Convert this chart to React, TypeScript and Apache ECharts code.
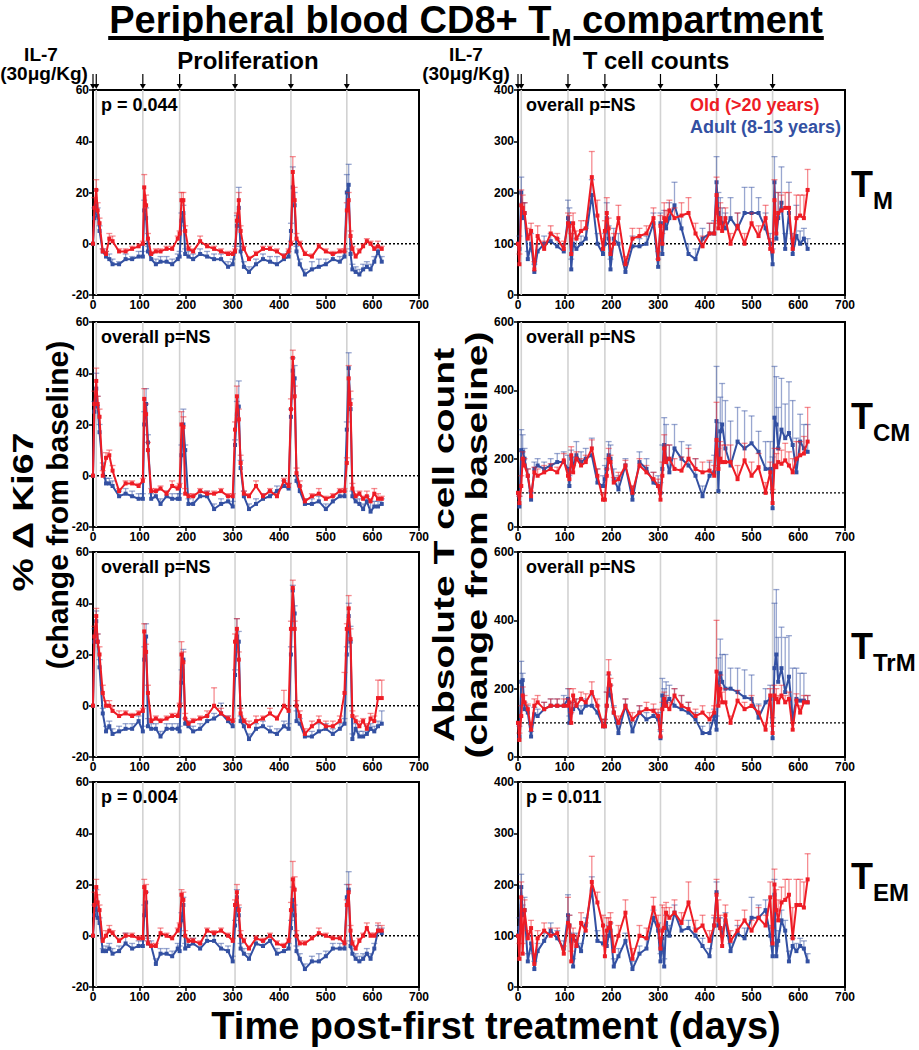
import React, { useEffect, useRef } from 'react';
import * as echarts from 'echarts';

const W = 919;
const H = 1050;
const FONT = '"Liberation Sans", Arial, Helvetica, sans-serif';

// sample days (days post first IL-7 treatment)
const days = [0,3,7,10,14,21,28,35,42,56,70,84,98,
  107,110,114,118,125,135,145,158,170,182,
  186,190,194,198,205,215,230,245,260,275,290,300,
  305,309,313,317,324,335,350,365,380,395,410,420,
  425,429,433,437,444,455,470,485,500,515,530,540,
  545,549,553,557,564,572,580,588,596,604,612,620];
const treatDays = [0, 7, 107, 186, 305, 425, 545];
const guideDays = [7, 107, 186, 305, 425, 545];
const xTicks = [0, 700, 100];

// Panel A: Ki67 TM
const aR = [0,14,21,13,8,-3,-4,2,1,-3,-3,-2,-1, 0,22,15,2,-4,-3,-3,-2,-2,2, 4,17,17,5,-2,-3,1,-1,-2,-3,-4,-4, -3,9,17,5,-2,-6,-4,-2,-2,-3,-5,-3, 0,28,17,2,0,-4,-5,-1,-3,-4,-3,-3, 13,17,3,-2,-5,-3,-1,1,0,-2,-1,-2];
const aRe = [0,4,4,3,2,1,1,2,2,1,1,1,1, 1,5,4,2,1,1,1,1,1,1, 1,3,3,2,1,1,2,1,1,1,1,1, 1,3,3,2,1,1,1,1,1,1,1,1, 1,6,5,2,1,1,1,1,1,1,1,1, 3,3,2,1,1,1,1,1,1,1,2,1];
const aB = [0,10,15,11,5,-3,-5,-6,-8,-8,-6,-6,-5, -5,13,10,-3,-6,-8,-7,-7,-8,-6, -5,9,12,-4,-5,-6,-4,-5,-6,-6,-9,-8, -3,7,14,-3,-9,-11,-8,-6,-7,-8,-6,-5, 5,22,15,-3,-8,-12,-10,-9,-8,-6,-7,-5, 20,23,-4,-10,-11,-12,-10,-9,-10,-7,-3,-7];
const aBe = [0,4,6,3,2,1,2,2,2,1,2,1,2, 2,4,4,2,2,2,2,2,2,2, 2,3,3,2,2,2,2,2,2,2,2,2, 2,4,8,2,2,2,2,2,2,3,2,2, 3,8,5,2,2,2,3,3,2,2,2,2, 7,8,2,2,2,2,2,2,2,2,2,2];

// Panel B: Ki67 TCM
const bR = [0,28,37,28,23,0,7,8,2,-6,-3,-3,-4, -2,30,24,10,-6,-6,-5,-7,-4,-5, -4,20,19,-7,-8,-8,-6,-7,-7,-6,-8,-8, 18,31,22,5,-7,-8,-4,-8,-6,-8,-2,-4, 26,46,31,1,-4,-10,-8,-7,-9,-8,-6,-6, 5,38,28,-5,-8,-7,-9,-8,-10,-7,-9,-9];
const bRe = [0,5,5,3,3,2,2,2,2,1,1,1,1, 1,4,4,3,1,1,1,1,2,1, 1,5,4,2,1,1,1,1,1,1,1,1, 3,4,4,3,1,1,2,1,1,1,1,1, 4,3,4,2,2,1,1,2,1,1,1,1, 2,5,5,2,1,1,1,2,1,2,2,1];
const bB = [0,25,34,27,17,3,-3,-3,-4,-8,-7,-8,-9, -9,20,28,13,-9,-8,-11,-8,-9,-9, -9,8,20,10,-11,-11,-8,-8,-13,-11,-10,-12, 12,24,27,3,-8,-13,-11,-9,-8,-6,-4,-5, 23,41,38,-2,-6,-11,-11,-10,-13,-10,-8,-8, 18,42,26,-8,-10,-11,-13,-10,-14,-12,-12,-11];
const bBe = [0,4,6,4,3,2,2,2,2,2,2,2,2, 2,5,6,3,2,2,2,2,2,2, 2,4,6,2,2,3,2,2,2,2,2,2, 2,5,10,3,2,2,2,2,2,2,2,2, 3,5,5,2,2,2,2,2,2,2,2,2, 3,6,4,2,2,2,2,2,4,2,2,2];

// Panel C: Ki67 TTrM
const cR = [0,27,35,25,20,5,0,0,-2,-4,-3,-4,-3, -2,29,21,5,-6,-5,-6,-5,-4,-4, 0,20,17,-5,-7,-6,-5,-4,0,-3,-5,-6, 25,30,18,-3,-6,-8,-6,-5,-3,-5,0,-2, 30,46,30,0,-4,-11,-8,-6,-8,-8,-6,5, 30,38,26,-4,-6,-8,-6,-9,-5,-6,3,3];
const cRe = [0,4,3,3,3,3,2,2,2,2,1,1,1, 1,3,3,3,1,1,1,1,1,1, 1,5,4,2,1,1,1,2,7,2,1,1, 3,4,3,2,1,2,2,1,2,1,6,2, 3,3,3,2,2,2,2,2,2,2,2,8, 2,5,4,2,2,2,1,2,2,2,7,7];
const cB = [0,25,33,25,15,-3,-10,-8,-11,-10,-9,-9,-6, -10,18,27,-8,-9,-9,-12,-9,-9,-9, -10,9,18,-7,-8,-10,-9,-6,-5,-3,-6,-8, 12,27,25,-6,-8,-13,-9,-8,-10,-11,-8,-9, 20,45,36,-6,-7,-12,-12,-10,-9,-11,-9,-7, 20,35,25,-13,-9,-12,-12,-11,-9,-10,-8,-7];
const cBe = [0,5,4,3,3,2,2,2,2,2,2,2,2, 2,5,5,3,2,2,2,2,2,2, 2,5,4,2,2,2,2,2,2,4,2,2, 2,7,4,2,2,2,2,2,2,2,2,2, 3,2,3,4,2,2,2,3,2,2,2,2, 3,5,6,2,2,2,2,3,2,2,2,5];

// Panel D: Ki67 TEM
const dR = [0,12,19,13,10,-2,0,2,1,-2,0,0,-1, -1,19,17,-3,-4,-4,1,0,-1,2, 4,16,14,0,-2,-2,-3,2,1,2,0,-2, 12,17,10,0,-2,-5,-1,-2,0,-3,-4,-2, 10,22,18,0,-3,-3,-1,1,0,-1,-1,-3, 12,17,2,-3,-5,-2,0,3,0,0,2,2];
const dRe = [0,5,3,3,2,1,2,2,1,1,1,1,1, 1,3,3,1,1,1,2,1,1,1, 1,2,3,2,1,1,1,1,1,1,1,1, 2,3,2,2,1,1,1,1,1,1,1,1, 3,7,5,2,1,1,1,2,1,1,1,1, 2,3,2,1,1,1,1,2,1,1,3,2];
const dB = [0,8,13,7,5,-6,-6,-5,-7,-6,-3,-5,-4, -4,8,13,-3,-4,-11,-7,-7,-8,-5, -6,6,12,-5,-4,-3,-5,-2,-2,-5,-6,-10, 4,15,8,-5,-7,-9,-3,-4,-2,-7,-6,-5, 3,14,8,-6,-9,-13,-10,-10,-8,-5,-5,-5, 15,18,-4,-7,-9,-10,-9,-7,-9,-5,2,1];
const dBe = [0,4,5,3,2,1,2,2,2,2,4,2,2, 2,4,4,2,2,2,2,2,2,2, 2,3,3,2,2,2,2,2,2,2,2,2, 2,3,3,2,2,2,2,2,2,2,2,2, 3,5,4,2,2,2,2,3,2,2,2,2, 5,7,2,2,2,2,2,2,2,2,2,2];

// Panel E: counts TM
const eR = [100,60,175,170,160,110,125,50,115,90,120,110,90, 140,135,80,140,110,125,130,230,155,90, 125,160,130,80,100,150,60,110,115,120,150,70, 135,100,150,145,165,150,155,160,120,95,120,120, 195,130,150,125,150,100,135,100,140,115,150,90, 85,185,120,160,165,170,170,90,150,155,150,205];
const eRe = [0,20,30,25,20,20,15,15,20,15,15,10,15, 20,20,40,20,15,20,15,50,30,20, 20,30,20,20,20,25,15,20,15,15,20,15, 20,20,30,20,20,20,25,30,20,20,20,20, 35,40,30,20,20,20,25,20,20,20,25,20, 20,40,30,40,30,30,30,20,45,40,45,40];
const eB = [100,90,200,150,160,70,100,45,85,100,105,95,85, 150,140,50,100,90,100,110,195,100,80, 100,150,110,50,110,100,45,95,95,100,140,55, 140,80,140,130,150,175,130,80,70,110,120,120, 220,160,150,140,130,150,130,160,160,160,130,100, 60,220,110,150,180,90,160,80,115,100,110,90];
const eBe = [0,25,30,30,20,15,20,15,15,15,15,15,15, 35,30,20,20,20,15,20,30,20,20, 20,30,25,20,20,20,15,20,15,15,20,15, 20,20,25,20,30,45,25,20,20,20,20,25, 50,40,40,30,30,40,30,50,50,30,30,20, 30,50,40,50,70,30,60,40,60,25,20,20];

// Panel F: counts TCM
const fR = [100,70,120,200,180,150,90,160,150,160,170,160,195, 150,140,210,160,200,180,190,230,150,80, 80,150,200,190,130,140,180,100,180,160,140,120, 80,150,230,190,200,170,165,200,170,160,165,150, 255,170,200,190,190,190,140,195,150,175,100,160, 70,180,175,190,185,195,180,160,200,210,215,250];
const fRe = [0,20,30,20,20,20,15,15,20,20,15,15,20, 20,20,25,20,20,20,20,25,20,15, 20,20,30,20,15,20,15,20,20,20,20,20, 20,40,40,50,40,30,40,30,30,30,30,30, 110,60,50,50,50,50,40,50,40,40,30,30, 40,50,40,40,40,50,40,40,50,40,50,100];
const fB = [100,60,225,220,200,150,80,170,180,170,180,190,190, 170,120,200,180,210,190,200,210,130,120, 140,170,210,200,140,110,180,80,190,170,130,120, 100,170,240,200,160,230,200,180,150,90,150,160, 310,105,280,300,230,180,250,230,245,220,170,170, 55,320,300,230,285,260,275,240,160,250,230,220];
const fBe = [0,30,60,50,30,20,20,20,20,20,20,25,30, 40,30,25,25,40,30,30,50,40,30, 40,30,40,40,30,40,20,40,30,30,30,30, 30,70,80,100,80,70,50,60,50,30,40,50, 160,200,100,120,140,130,100,110,80,60,80,80, 150,150,140,120,150,100,150,130,100,80,70,80];

// Panel G: counts TTrM
const gR = [100,50,120,180,160,140,80,150,160,140,150,150,150, 150,160,100,180,150,170,160,190,150,90, 90,150,245,210,130,100,150,110,130,140,135,120, 60,140,170,150,140,180,150,140,120,130,110,130, 250,150,200,160,160,100,165,140,150,130,80,180, 70,180,170,160,180,160,170,80,165,130,160,160];
const gRe = [0,20,30,25,20,15,15,20,20,20,20,20,20, 20,40,30,20,20,20,25,30,20,20, 20,40,40,20,15,20,20,20,20,20,20,20, 20,20,20,30,20,20,30,20,20,20,20,20, 150,60,40,30,40,20,30,20,30,20,20,20, 20,30,30,20,30,20,20,20,20,20,20,20];
const gB = [100,60,220,225,140,130,60,125,120,140,150,150,150, 170,100,130,140,150,130,150,150,130,90, 90,150,200,180,130,70,150,75,130,110,120,110, 55,180,150,160,170,150,140,130,110,70,70,120, 80,210,245,220,200,200,190,175,170,115,160,170, 55,260,300,220,260,190,235,110,170,165,165,160];
const gBe = [0,30,60,20,20,20,15,20,20,20,20,20,30, 30,20,30,20,20,20,20,30,20,20, 20,40,40,30,20,30,20,30,20,20,20,20, 20,50,50,60,40,50,40,30,20,20,30,20, 40,80,100,80,100,60,70,80,70,40,40,40, 60,190,190,130,120,160,120,150,90,80,80,20];

// Panel H: counts TEM
const hR = [100,55,175,65,150,95,115,45,95,110,100,105,65, 125,120,50,100,80,125,110,205,165,120, 60,110,115,125,70,100,145,55,100,95,155,120, 75,110,115,145,135,145,125,165,110,120,90,120, 180,130,115,80,140,90,110,130,110,135,120,175, 85,200,150,130,165,170,180,95,160,160,155,210];
const hRe = [0,30,30,20,20,15,15,20,15,15,15,10,15, 50,20,20,15,20,20,15,50,20,20, 20,25,20,20,30,20,25,20,20,20,20,20, 20,50,40,20,20,25,20,40,20,20,20,20, 30,40,25,20,20,20,20,20,20,20,20,30, 30,30,40,40,30,40,30,60,50,50,50,50];
const hB = [100,115,195,140,150,50,85,35,70,90,110,95,75, 140,120,90,40,90,70,120,190,90,85, 85,80,100,110,40,60,90,35,65,75,135,110, 50,95,40,125,100,145,110,115,100,80,60,120, 185,120,115,100,130,70,105,95,135,135,150,100, 60,180,60,90,130,110,50,80,70,80,75,50];
const hBe = [0,20,25,20,25,15,15,15,15,15,15,15,15, 40,20,15,15,15,15,15,25,20,15, 15,20,20,15,15,15,15,15,15,20,15,15, 15,20,15,15,20,15,20,15,15,15,15,15, 20,15,20,15,15,15,15,20,40,25,20,20, 20,30,20,20,20,20,20,15,15,15,15,15];

const notes = ['p = 0.044', 'overall p=NS', 'overall p=NS', 'p = 0.004', 'overall p=NS', 'overall p=NS', 'overall p=NS', 'p = 0.011'];
const subsets = ['M', 'CM', 'TrM', 'EM'];
const legendLabels = ['Old (>20 years)', 'Adult (8-13 years)'];

const panels = [
  { col: 0, row: 0, red: aR, redE: aRe, blue: aB, blueE: aBe, yr: [-20, 60, 20], base: 0 },
  { col: 0, row: 1, red: bR, redE: bRe, blue: bB, blueE: bBe, yr: [-20, 60, 20], base: 0 },
  { col: 0, row: 2, red: cR, redE: cRe, blue: cB, blueE: cBe, yr: [-20, 60, 20], base: 0 },
  { col: 0, row: 3, red: dR, redE: dRe, blue: dB, blueE: dBe, yr: [-20, 60, 20], base: 0 },
  { col: 1, row: 0, red: eR, redE: eRe, blue: eB, blueE: eBe, yr: [0, 400, 100], base: 100 },
  { col: 1, row: 1, red: fR, redE: fRe, blue: fB, blueE: fBe, yr: [0, 600, 200], base: 100 },
  { col: 1, row: 2, red: gR, redE: gRe, blue: gB, blueE: gBe, yr: [0, 600, 200], base: 100 },
  { col: 1, row: 3, red: hR, redE: hRe, blue: hB, blueE: hBe, yr: [0, 400, 100], base: 100 },
];

const RED = '#ee1c25';
const BLUE = '#3350a2';
const RED_ERR = 'rgba(238,28,37,0.5)';
const BLUE_ERR = 'rgba(51,80,162,0.5)';

const colLeft = [93, 518];
const colWidth = [326, 327];
const rowTop = [90, 322, 552, 782];
const plotH = 205;

function measure(text: string, font: string): number {
  const c = document.createElement('canvas').getContext('2d');
  if (!c) return text.length * 10;
  c.font = font;
  return c.measureText(text).width;
}

function errRender(color: string) {
  return (params: any, api: any) => {
    const x = api.value(0);
    const y = api.value(1);
    const e = api.value(2);
    if (!(e > 0)) return { type: 'group', children: [] };
    const p0 = api.coord([x, y]);
    const p1 = api.coord([x, y + e]);
    return {
      type: 'group',
      children: [
        { type: 'line', shape: { x1: p0[0], y1: p0[1], x2: p1[0], y2: p1[1] }, style: { stroke: color, lineWidth: 1.3 } },
        { type: 'line', shape: { x1: p1[0] - 3, y1: p1[1], x2: p1[0] + 3, y2: p1[1] }, style: { stroke: color, lineWidth: 1.3 } },
      ],
    };
  };
}

function guideRender(params: any, api: any) {
  const p = api.coord([api.value(0), api.value(1)]);
  const cs = params.coordSys;
  return { type: 'line', shape: { x1: p[0], y1: cs.y, x2: p[0], y2: cs.y + cs.height }, style: { stroke: '#d2d2d2', lineWidth: 1.6 } };
}

function arrowRender(params: any, api: any) {
  const p = api.coord([api.value(0), api.value(1)]);
  const top = params.coordSys.y;
  return {
    type: 'group',
    children: [
      { type: 'line', shape: { x1: p[0], y1: top - 16, x2: p[0], y2: top - 5 }, style: { stroke: '#000', lineWidth: 1.2 } },
      { type: 'polygon', shape: { points: [[p[0] - 3, top - 6], [p[0] + 3, top - 6], [p[0], top - 1]] }, style: { fill: '#000' } },
    ],
  };
}

export default function App() {
  const ref = useRef<HTMLDivElement>(null);
  useEffect(() => {
    if (!ref.current) return;
    const chart = echarts.init(ref.current, null, { renderer: 'svg' });
    const grids: any[] = [];
    const xAxes: any[] = [];
    const yAxes: any[] = [];
    const series: any[] = [];
    const graphics: any[] = [];
    const label = { color: '#000', fontSize: 12, fontWeight: 'bold', fontFamily: FONT };

    panels.forEach((p, i) => {
      const left = colLeft[p.col];
      const width = colWidth[p.col];
      const top = rowTop[p.row];
      grids.push({ left, top, width, height: plotH, show: true, borderColor: '#000', borderWidth: 2, backgroundColor: 'transparent' });
      xAxes.push({
        gridIndex: i, type: 'value', min: xTicks[0], max: xTicks[1], interval: xTicks[2], position: 'bottom',
        axisLine: { show: true, onZero: false, lineStyle: { color: '#000', width: 2 } },
        axisTick: { show: true, length: 4, lineStyle: { color: '#000', width: 1.5 } },
        axisLabel: { ...label, margin: 4, showMinLabel: true, showMaxLabel: true },
        splitLine: { show: false },
      });
      yAxes.push({
        gridIndex: i, type: 'value', min: p.yr[0], max: p.yr[1], interval: p.yr[2], position: 'left',
        axisLine: { show: true, onZero: false, lineStyle: { color: '#000', width: 2 } },
        axisTick: { show: true, length: 4, lineStyle: { color: '#000', width: 1.5 } },
        axisLabel: { ...label, margin: 4, showMinLabel: true, showMaxLabel: true },
        splitLine: { show: false },
      });
      const ax = { xAxisIndex: i, yAxisIndex: i };
      series.push({ ...ax, type: 'custom', z: 1, silent: true, renderItem: guideRender, encode: { x: 0, y: 1 }, data: guideDays.map((d) => [d, p.yr[0]]) });
      series.push({ ...ax, type: 'line', z: 2, silent: true, symbol: 'none', lineStyle: { color: '#000', width: 1.4, type: [2, 2] }, data: [[xTicks[0], p.base], [xTicks[1], p.base]] });
      series.push({ ...ax, type: 'custom', z: 3, silent: true, renderItem: errRender(BLUE_ERR), encode: { x: 0, y: 1 }, data: days.map((d, k) => [d, p.blue[k], p.blueE[k]]) });
      series.push({ ...ax, type: 'line', z: 4, silent: true, symbol: 'rect', symbolSize: 4, color: BLUE, itemStyle: { color: BLUE }, lineStyle: { color: BLUE, width: 2 }, data: days.map((d, k) => [d, p.blue[k]]) });
      series.push({ ...ax, type: 'custom', z: 5, silent: true, renderItem: errRender(RED_ERR), encode: { x: 0, y: 1 }, data: days.map((d, k) => [d, p.red[k], p.redE[k]]) });
      series.push({ ...ax, type: 'line', z: 6, silent: true, symbol: 'rect', symbolSize: 4, color: RED, itemStyle: { color: RED }, lineStyle: { color: RED, width: 2 }, data: days.map((d, k) => [d, p.red[k]]) });
      if (p.row === 0) {
        series.push({ ...ax, type: 'custom', z: 7, silent: true, clip: false, renderItem: arrowRender, encode: { x: 0, y: 1 }, data: treatDays.map((d) => [d, p.yr[1]]) });
      }
      graphics.push({ type: 'text', x: left + 8, y: top + 15, z: 20, style: { text: notes[i], font: `bold 18px ${FONT}`, fill: '#000', align: 'left', verticalAlign: 'middle' } });
    });

    // Title with subscript and underline
    const fBig = `bold 38px ${FONT}`;
    const fSub = `bold 24px ${FONT}`;
    const t1 = 'Peripheral blood CD8+ T';
    const t2 = ' compartment';
    const w1 = measure(t1, fBig);
    const wM = measure('M', fSub);
    const w2 = measure(t2, fBig);
    const x0 = 466 - (w1 + wM + w2) / 2;
    graphics.push({ type: 'text', x: x0, y: 20, z: 20, style: { text: t1, font: fBig, fill: '#000', align: 'left', verticalAlign: 'middle' } });
    graphics.push({ type: 'text', x: x0 + w1, y: 37, z: 20, style: { text: 'M', font: fSub, fill: '#000', align: 'left', verticalAlign: 'middle' } });
    graphics.push({ type: 'text', x: x0 + w1 + wM, y: 20, z: 20, style: { text: t2, font: fBig, fill: '#000', align: 'left', verticalAlign: 'middle' } });
    graphics.push({ type: 'rect', z: 20, shape: { x: x0 - 1, y: 36, width: w1 - 1, height: 4 }, style: { fill: '#000' } });
    graphics.push({ type: 'rect', z: 20, shape: { x: x0 + w1 + wM + 2, y: 36, width: w2 - 1, height: 4 }, style: { fill: '#000' } });

    // headings above panels
    const fHead = `bold 24px ${FONT}`;
    const fIL = `bold 19px ${FONT}`;
    [[41, 44], [466, 466]].forEach(([cx1, cx2]) => {
      graphics.push({ type: 'text', x: cx1, y: 54, z: 20, style: { text: 'IL-7', font: fIL, fill: '#000', align: 'center', verticalAlign: 'middle' } });
      graphics.push({ type: 'text', x: cx2, y: 73, z: 20, style: { text: '(30μg/Kg)', font: fIL, fill: '#000', align: 'center', verticalAlign: 'middle' } });
    });
    graphics.push({ type: 'text', x: 248, y: 60, z: 20, style: { text: 'Proliferation', font: fHead, fill: '#000', align: 'center', verticalAlign: 'middle' } });
    graphics.push({ type: 'text', x: 656, y: 60, z: 20, style: { text: 'T cell counts', font: fHead, fill: '#000', align: 'center', verticalAlign: 'middle' } });

    // legend
    graphics.push({ type: 'text', x: 690, y: 105, z: 20, style: { text: legendLabels[0], font: `bold 18px ${FONT}`, fill: RED, align: 'left', verticalAlign: 'middle' } });
    graphics.push({ type: 'text', x: 690, y: 127, z: 20, style: { text: legendLabels[1], font: `bold 18px ${FONT}`, fill: BLUE, align: 'left', verticalAlign: 'middle' } });

    // subset labels on right
    const fT = `bold 36px ${FONT}`;
    const fTs = `bold 24px ${FONT}`;
    const wT = measure('T', fT);
    subsets.forEach((s, r) => {
      const cy = rowTop[r] + plotH / 2;
      graphics.push({ type: 'text', x: 851, y: cy - 8, z: 20, style: { text: 'T', font: fT, fill: '#000', align: 'left', verticalAlign: 'middle' } });
      graphics.push({ type: 'text', x: 851 + wT, y: cy + 8, z: 20, style: { text: s, font: fTs, fill: '#000', align: 'left', verticalAlign: 'middle' } });
    });

    // axis titles
    const fAx = `bold 30px ${FONT}`;
    graphics.push({ type: 'text', x: 22, y: 512, rotation: Math.PI / 2, scaleX: 1.25, z: 20, style: { text: '% Δ Ki67', font: fAx, fill: '#000', align: 'center', verticalAlign: 'middle' } });
    graphics.push({ type: 'text', x: 57, y: 505, rotation: Math.PI / 2, z: 20, style: { text: '(change from baseline)', font: fAx, fill: '#000', align: 'center', verticalAlign: 'middle' } });
    graphics.push({ type: 'text', x: 444, y: 545, rotation: Math.PI / 2, scaleX: 1.3, z: 20, style: { text: 'Absolute T cell count', font: fAx, fill: '#000', align: 'center', verticalAlign: 'middle' } });
    graphics.push({ type: 'text', x: 477, y: 545, rotation: Math.PI / 2, scaleX: 1.3, z: 20, style: { text: '(change from baseline)', font: fAx, fill: '#000', align: 'center', verticalAlign: 'middle' } });
    graphics.push({ type: 'text', x: 496, y: 1026, z: 20, style: { text: 'Time post-first treatment (days)', font: `bold 38px ${FONT}`, fill: '#000', align: 'center', verticalAlign: 'middle' } });

    chart.setOption({
      animation: false,
      backgroundColor: '#fff',
      grid: grids,
      xAxis: xAxes,
      yAxis: yAxes,
      series,
      graphic: graphics,
    });
    return () => chart.dispose();
  }, []);
  return <div ref={ref} style={{ position: 'absolute', left: 0, top: 0, width: W, height: H }} />;
}
